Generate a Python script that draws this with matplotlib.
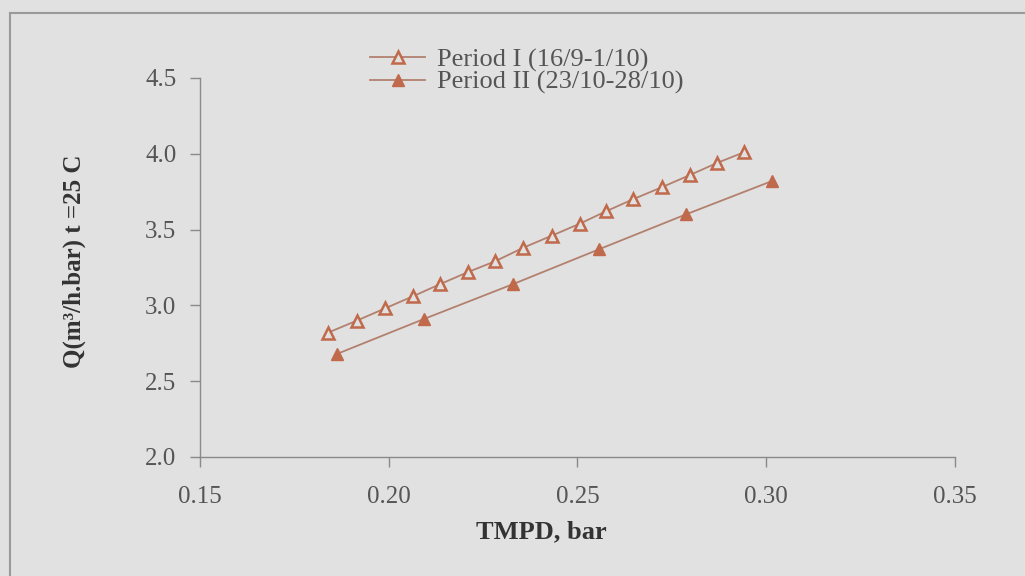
import numpy as np
import matplotlib
matplotlib.use("Agg")
import matplotlib.pyplot as plt

# Period I (16/9-1/10)
tmpd_1 = [0.1839, 0.1916, 0.1990, 0.2064, 0.2136, 0.2210, 0.2281, 0.2356,
          0.2432, 0.2507, 0.2575, 0.2647, 0.2724, 0.2798, 0.2870, 0.2941]
q_1 = [2.82, 2.90, 2.98, 3.06, 3.14, 3.22, 3.29, 3.38,
       3.46, 3.54, 3.62, 3.70, 3.78, 3.86, 3.94, 4.01]

# Period II (23/10-28/10)
tmpd_2 = [0.1863, 0.2093, 0.2329, 0.2557, 0.2787, 0.3015]
q_2 = [2.68, 2.91, 3.14, 3.37, 3.60, 3.82]

labels = ["Period I (16/9-1/10)", "Period II (23/10-28/10)"]
xticks = [0.15, 0.20, 0.25, 0.30, 0.35]
yticks = [2.0, 2.5, 3.0, 3.5, 4.0, 4.5]

plt.rcParams['font.family'] = ['Liberation Serif', 'DejaVu Serif']

bg = '#e1e1e1'
line_c = '#b3806e'
mark_c = '#c0694b'
txt_c = '#555555'

fig = plt.figure(figsize=(10.25, 5.76), dpi=100, facecolor=bg)
ax = fig.add_axes([0.1951, 0.2066, 0.7366, 0.6580])
ax.set_facecolor(bg)

ax.plot(tmpd_1, q_1, color=line_c, lw=1.3, marker='^', ms=9,
        mfc=bg, mec=mark_c, mew=1.8, label=labels[0])
ax.plot(tmpd_2, q_2, color=line_c, lw=1.3, marker='^', ms=9,
        mfc=mark_c, mec=mark_c, mew=1.0, label=labels[1])

ax.set_xlim(0.15, 0.35)
ax.set_ylim(2.0, 4.5)
ax.set_xticks(xticks)
ax.set_xticklabels([f"{v:.2f}" for v in xticks])
ax.set_yticks(yticks)
ax.set_yticklabels([f"{v:.1f}" for v in yticks])

for s in ['top', 'right']:
    ax.spines[s].set_visible(False)
for s in ['left', 'bottom']:
    ax.spines[s].set_color('#8a8a8a')
    ax.spines[s].set_linewidth(1.0)
ax.tick_params(axis='both', colors='#8a8a8a', labelcolor=txt_c,
               labelsize=18, length=7, width=1.0)
ax.tick_params(axis='x', pad=14)
ax.tick_params(axis='y', pad=10)

fig.text(0.528, 0.076, "TMPD, bar", fontsize=19, fontweight='bold',
         color='#333333', ha='center', va='center')
fig.text(0.072, 0.547, "Q(m\u00b3/h.bar) t =25 C", fontsize=18,
         fontweight='bold', color='#333333', rotation=90,
         ha='center', va='center')

leg = ax.legend(loc='upper left', bbox_to_anchor=(0.361, 0.917),
                bbox_transform=fig.transFigure, frameon=False,
                fontsize=19, handlelength=2.1, handletextpad=0.45,
                labelspacing=-0.05, borderpad=0.0, borderaxespad=0.0)
for t in leg.get_texts():
    t.set_color(txt_c)

# scanned page frame
fig.add_artist(plt.Line2D([0.0098, 1.0], [0.977, 0.977],
                          transform=fig.transFigure, color='#9a9a9a', lw=1.5))
fig.add_artist(plt.Line2D([0.0098, 0.0098], [0.0, 0.977],
                          transform=fig.transFigure, color='#9a9a9a', lw=1.5))

fig.savefig("out.png", dpi=100, facecolor=bg)
